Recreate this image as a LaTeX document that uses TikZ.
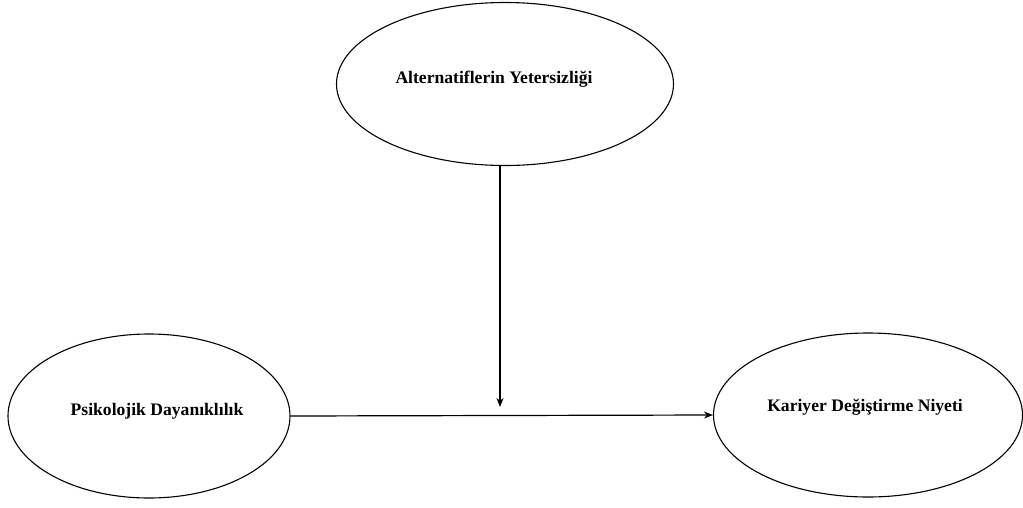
\documentclass[tikz,border=0pt]{standalone}
\usepackage{fontspec}
\setmainfont{Liberation Serif}
\usetikzlibrary{shapes.geometric,arrows.meta}
\begin{document}
\begin{tikzpicture}[x=1pt,y=-1pt,
  oval/.style={draw,ellipse,line width=1.1pt,inner sep=0pt},
  lbl/.style={font=\fontsize{17.6}{20}\selectfont\bfseries},
  conn/.style={line width=1.2pt,-{Stealth[length=9pt,width=7pt]}}]
\useasboundingbox (0,0) rectangle (1023,507);
\node[oval,minimum width=337pt,minimum height=163pt] (alt) at (505,84) {};
\node[lbl] (altt) at (494,79) {Alternatiflerin Yetersizliği};
\node[oval,minimum width=282pt,minimum height=164pt] (psi) at (149,416) {};
\node[lbl] (psit) at (157,411) {Psikolojik Dayanıklılık};
\node[oval,minimum width=309pt,minimum height=164pt] (kar) at (868,415) {};
\node[lbl] (kart) at (865,407) {Kariyer Değiştirme Niyeti};
\coordinate (tip) at (500,407);
\draw[conn] (alt.south -| tip) -- (tip);
\draw[conn] (psi.east) -- (kar.west);
\end{tikzpicture}
\end{document}
